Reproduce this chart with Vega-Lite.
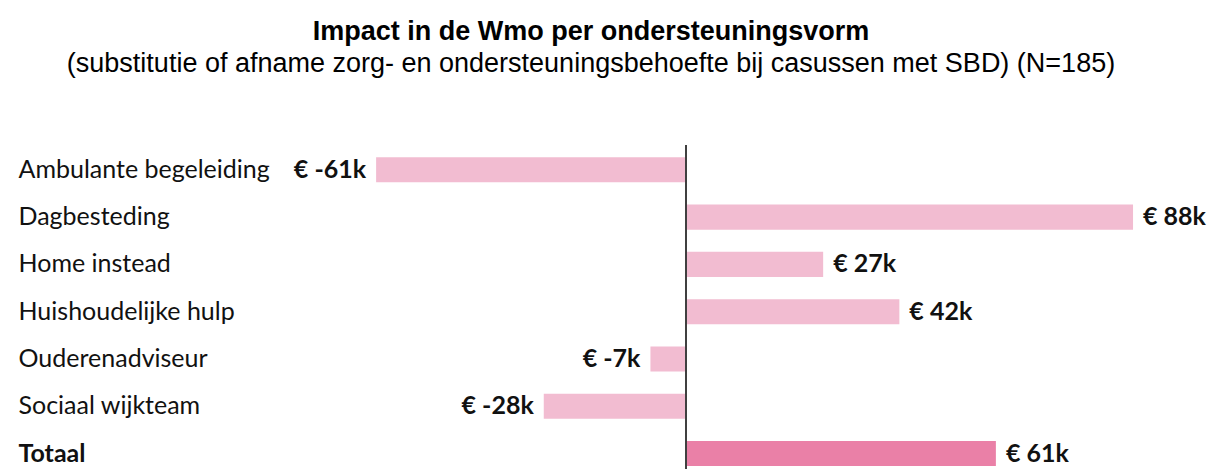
{
  "$schema": "https://vega.github.io/schema/vega-lite/v6.json",
  "autosize": {"type": "none"},
  "padding": {"left": 178, "right": 18, "top": 145, "bottom": 0},
  "width": 1016,
  "height": 324,
  "background": "white",
  "config": {"view": {"stroke": null}},
  "title": {
    "text": "Impact in de Wmo per ondersteuningsvorm",
    "subtitle": "(substitutie of afname zorg- en ondersteuningsbehoefte bij casussen met SBD) (N=185)",
    "font": "Liberation Sans",
    "fontSize": 27,
    "fontWeight": "bold",
    "color": "#000000",
    "subtitleFont": "Liberation Sans",
    "subtitleFontSize": 27,
    "subtitleColor": "#000000",
    "subtitlePadding": 5,
    "anchor": "middle",
    "frame": "group",
    "dx": -95,
    "offset": 66
  },
  "data": {
    "values": [
      {"category": "Ambulante begeleiding", "value": -61, "label": "€ -61k", "kind": "item"},
      {"category": "Dagbesteding", "value": 88, "label": "€ 88k", "kind": "item"},
      {"category": "Home instead", "value": 27, "label": "€ 27k", "kind": "item"},
      {"category": "Huishoudelijke hulp", "value": 42, "label": "€ 42k", "kind": "item"},
      {"category": "Ouderenadviseur", "value": -7, "label": "€ -7k", "kind": "item"},
      {"category": "Sociaal wijkteam", "value": -28, "label": "€ -28k", "kind": "item"},
      {"category": "Totaal", "value": 61, "label": "€ 61k", "kind": "total"}
    ]
  },
  "encoding": {
    "y": {
      "field": "category",
      "type": "nominal",
      "sort": null,
      "scale": {"paddingInner": 0.47, "paddingOuter": 0.16, "align": 0.81},
      "axis": {
        "title": null,
        "domain": false,
        "ticks": false,
        "labelAlign": "left",
        "labelPadding": 160,
        "labelLimit": 400,
        "labelFont": "Lato",
        "labelFontSize": 25,
        "labelColor": "#111111",
        "labelFontWeight": {"condition": {"test": "datum.value === 'Totaal'", "value": "bold"}, "value": "normal"}
      }
    },
    "x": {
      "field": "value",
      "type": "quantitative",
      "scale": {"domain": [-100, 100], "nice": false, "zero": true},
      "axis": null
    }
  },
  "layer": [
    {
      "mark": {"type": "bar", "cornerRadius": 0},
      "encoding": {
        "color": {
          "field": "kind",
          "type": "nominal",
          "scale": {"domain": ["item", "total"], "range": ["#F2BCD1", "#EA80A7"]},
          "legend": null
        }
      }
    },
    {
      "transform": [{"filter": "datum.value >= 0"}],
      "mark": {"type": "text", "align": "left", "baseline": "middle", "dx": 10, "font": "Lato", "fontSize": 25, "fontWeight": "bold", "color": "#111111"},
      "encoding": {"text": {"field": "label"}}
    },
    {
      "transform": [{"filter": "datum.value < 0"}],
      "mark": {"type": "text", "align": "right", "baseline": "middle", "dx": -10, "font": "Lato", "fontSize": 25, "fontWeight": "bold", "color": "#111111"},
      "encoding": {"text": {"field": "label"}}
    },
    {
      "mark": {"type": "rule", "color": "#404040", "strokeWidth": 1.5},
      "encoding": {"x": {"datum": 0}, "y": null}
    }
  ]
}
